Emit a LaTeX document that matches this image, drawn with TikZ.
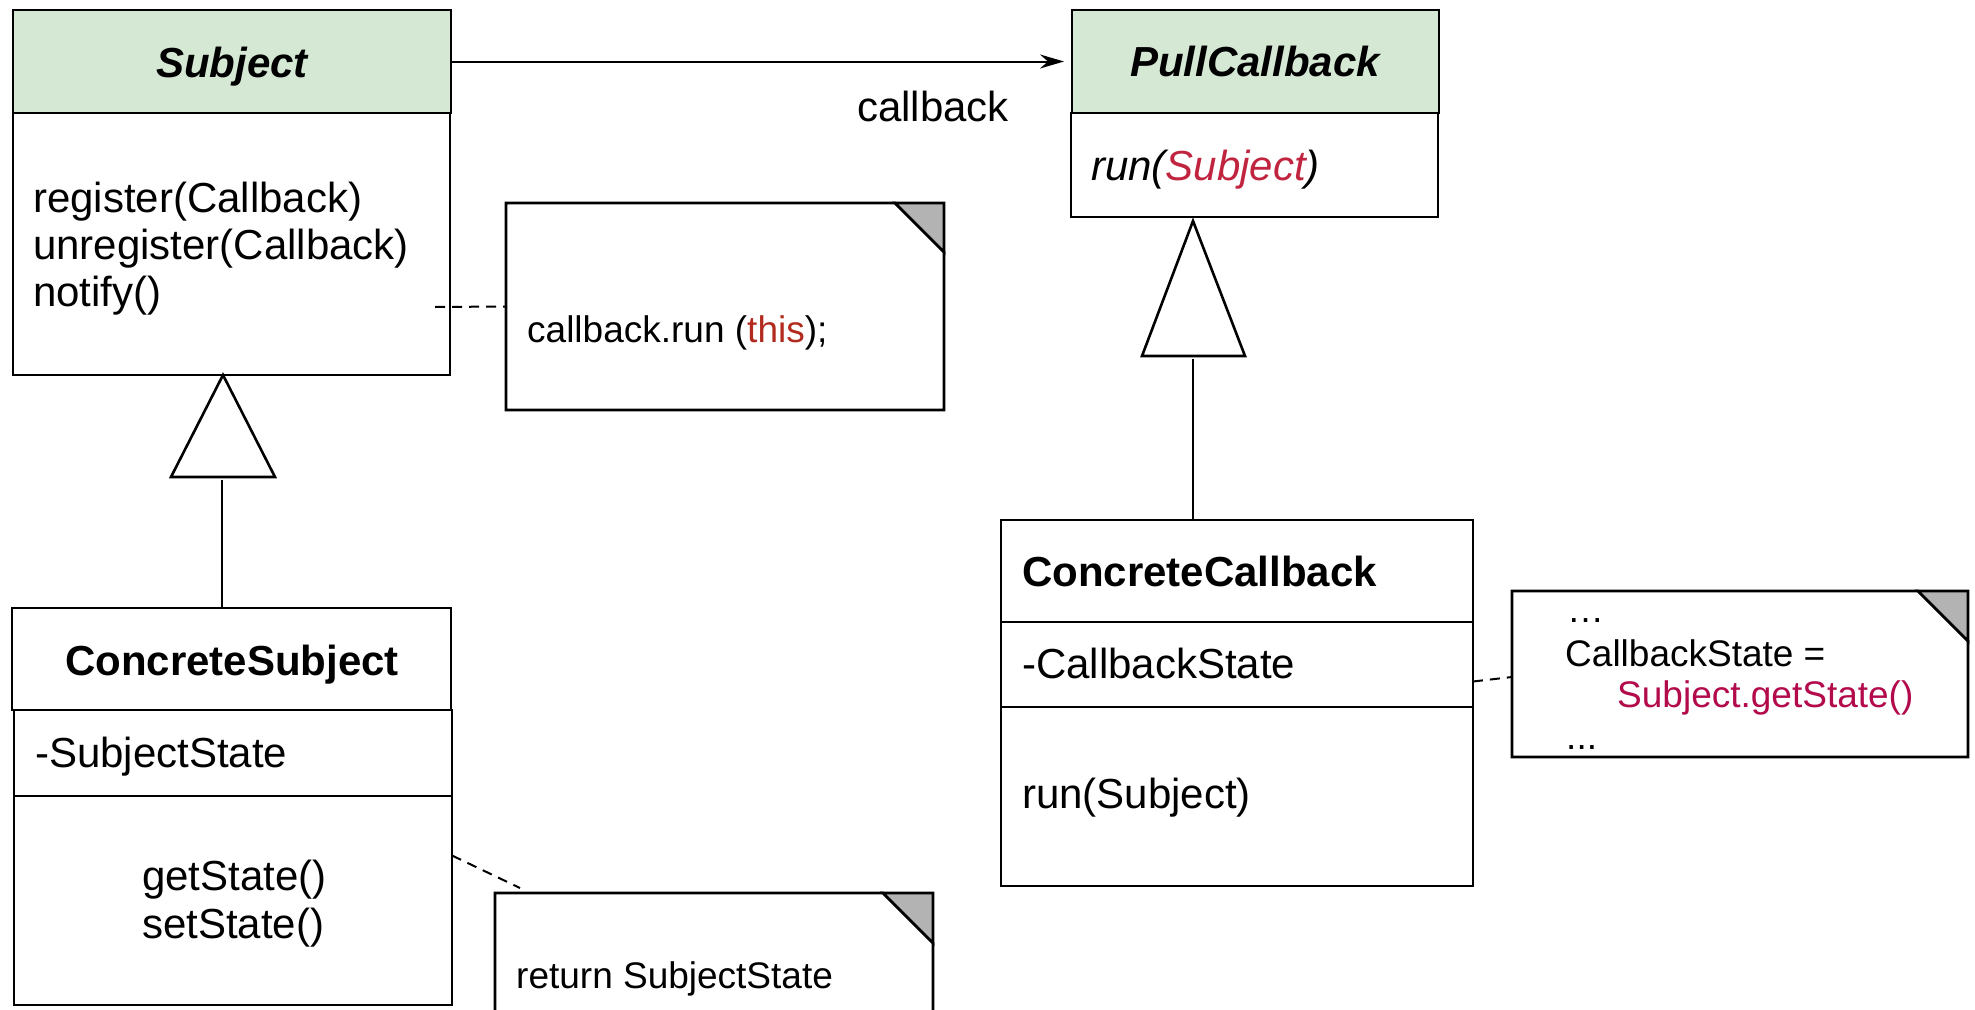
\documentclass[tikz,border=0pt]{standalone}
\usepackage{fontspec}
\setmainfont{Liberation Sans}
\usetikzlibrary{arrows.meta}
\definecolor{hdrgreen}{HTML}{D5E8D4}
\definecolor{foldgray}{HTML}{B3B3B3}
\definecolor{thisred}{HTML}{B22A1E}
\definecolor{subjred}{HTML}{C0243F}
\definecolor{getred}{HTML}{B30A4C}
\newcommand\notedraw[2]{%
  \draw[outline] (#1.north west) -- ([xshift=-#2pt]#1.north east) -- ([yshift=-#2pt]#1.north east) -- (#1.south east) -- (#1.south west) -- cycle;
  \filldraw[foldst] ([xshift=-#2pt]#1.north east) -- (#1.north east) -- ([yshift=-#2pt]#1.north east) -- cycle;}
\begin{document}
\begin{tikzpicture}[x=1pt,y=-1pt,
  box/.style={draw=black,line width=2.6pt,anchor=north west,inner sep=0pt,outer sep=0pt},
  hdr/.style={box,fill=hdrgreen},
  noteframe/.style={anchor=north west,inner sep=0pt,outer sep=0pt},
  txt/.style={font=\fontsize{42}{47}\selectfont,inner sep=0pt,anchor=base west},
  ctxt/.style={txt,anchor=base},
  ntxt/.style={font=\fontsize{37}{42}\selectfont,inner sep=0pt,anchor=base west},
  conn/.style={line width=2pt},
  dashln/.style={line width=2pt,dash pattern=on 10pt off 7pt},
  outline/.style={line width=2.6pt,line join=miter},
  foldst/.style={outline,fill=foldgray},
  tri/.style={line width=2.6pt,fill=white,line join=miter}]
\fill[white] (0,0) rectangle (1975,1009);
\clip (0,0) rectangle (1975,1009);

% Subject
\node[hdr,minimum width=438pt,minimum height=103pt] (subjH) at (13,10) {};
\node[box,minimum width=437pt,minimum height=262pt] (subjB) at (13,113) {};
\node[ctxt,font=\fontsize{42}{47}\selectfont\bfseries\itshape] (subjT) at (232,77) {Subject};
\node[txt] (m1) at (33,212) {register(Callback)};
\node[txt] (m2) at (33,259) {unregister(Callback)};
\node[txt] (m3) at (33,306) {notify()};

% note 1
\node[noteframe,minimum width=438pt,minimum height=207pt] (n1) at (506,203) {};
\notedraw{n1}{49}
\node[ntxt] (n1t) at (527,342) {callback.run (\textcolor{thisred}{this});};
\coordinate (d1) at (435,307);
\draw[dashln] (d1) -- (n1.west);

% PullCallback
\node[hdr,minimum width=367pt,minimum height=103pt] (pcH) at (1072,10) {};
\node[box,minimum width=367pt,minimum height=104pt] (pcB) at (1071,113) {};
\node[ctxt,font=\fontsize{42}{47}\selectfont\bfseries\itshape] (pcT) at (1255,76) {PullCallback};
\node[txt,font=\fontsize{42}{47}\selectfont\itshape] (pcm) at (1091,180) {run(\textcolor{subjred}{Subject})};

% association
\draw[conn,-{Stealth[length=24pt,width=14pt,inset=8pt]},shorten >=8pt] (subjH.east) -- (pcH.west);
\node[txt] (lbl) at (857,121) {callback};

% ConcreteCallback
\node[box,minimum width=472pt,minimum height=102pt] (ccH) at (1001,520) {};
\node[box,minimum width=472pt,minimum height=85pt] (ccA) at (1001,622) {};
\node[box,minimum width=472pt,minimum height=179pt] (ccB) at (1001,707) {};
\node[txt,font=\fontsize{42}{47}\selectfont\bfseries] (ccT) at (1022,586) {ConcreteCallback};
\node[txt] (cca) at (1022,678) {-CallbackState};
\node[txt] (ccm) at (1022,808) {run(Subject)};

% generalization CC -> PullCallback
\draw[tri] (1193,221) -- (1245,356) -- (1142,356) -- cycle;
\coordinate (t2) at (1193,359);
\draw[conn] (t2) -- (ccH.north -| t2);

% note 3
\node[noteframe,minimum width=456pt,minimum height=166pt] (n3) at (1512,591) {};
\notedraw{n3}{50}
\node[ntxt] (n3a) at (1567,622) {…};
\node[ntxt] (n3b) at (1565,666) {CallbackState =};
\node[ntxt] (n3c) at (1617,707) {\textcolor{getred}{Subject.getState()}};
\node[ntxt] (n3d) at (1566,749) {...};
\draw[dashln] ([yshift=-17pt]ccA.east) -- ([yshift=-3pt]n3.west);

% ConcreteSubject
\node[box,minimum width=439pt,minimum height=102pt] (csH) at (12,608) {};
\node[box,minimum width=438pt,minimum height=86pt] (csA) at (14,710) {};
\node[box,minimum width=438pt,minimum height=209pt] (csB) at (14,796) {};
\node[ctxt,font=\fontsize{42}{47}\selectfont\bfseries] (csT) at (232,675) {ConcreteSubject};
\node[txt] (csa) at (35,767) {-SubjectState};
\node[txt] (csm1) at (142,890) {getState()};
\node[txt] (csm2) at (142,938) {setState()};

% generalization CS -> Subject
\draw[tri] (223,375) -- (275,477) -- (171,477) -- cycle;
\coordinate (t1) at (222,480);
\draw[conn] (t1) -- (csH.north -| t1);

% note 2
\node[noteframe,minimum width=438pt,minimum height=150pt] (n2) at (495,893) {};
\notedraw{n2}{50}
\node[ntxt] (n2t) at (516,988) {return SubjectState};
\draw[dashln] ([yshift=45pt]csB.east) -- ([xshift=25pt,yshift=5pt]n2.north west);
\end{tikzpicture}
\end{document}
